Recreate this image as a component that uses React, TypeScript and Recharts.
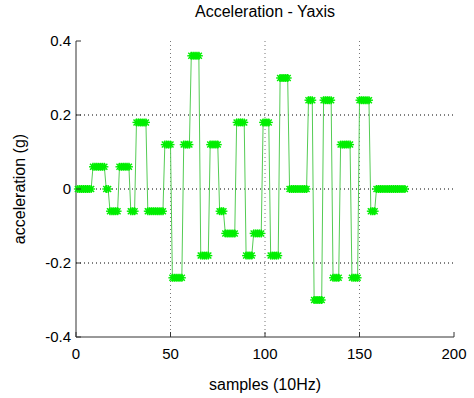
import { LineChart, Line, XAxis, YAxis, CartesianGrid } from "recharts";

// acceleration readings (g), one per sample at 10Hz
const accelY: number[] = [
  0, 0, 0, 0, 0, 0, 0, 0,
  0.06, 0.06, 0.06, 0.06, 0.06, 0.06, 0.06,
  0, 0,
  -0.06, -0.06, -0.06, -0.06, -0.06,
  0.06, 0.06, 0.06, 0.06, 0.06, 0.06,
  -0.06, -0.06, -0.06,
  0.18, 0.18, 0.18, 0.18, 0.18, 0.18,
  -0.06, -0.06, -0.06, -0.06, -0.06, -0.06, -0.06, -0.06, -0.06,
  0.12, 0.12, 0.12, 0.12,
  -0.24, -0.24, -0.24, -0.24, -0.24, -0.24,
  0.12, 0.12, 0.12, 0.12,
  0.36, 0.36, 0.36, 0.36, 0.36,
  -0.18, -0.18, -0.18, -0.18, -0.18,
  0.12, 0.12, 0.12, 0.12, 0.12,
  -0.06, -0.06, -0.06,
  -0.12, -0.12, -0.12, -0.12, -0.12, -0.12,
  0.18, 0.18, 0.18, 0.18, 0.18,
  -0.18, -0.18, -0.18, -0.18,
  -0.12, -0.12, -0.12, -0.12, -0.12,
  0.18, 0.18, 0.18, 0.18,
  -0.18, -0.18, -0.18, -0.18, -0.18,
  0.3, 0.3, 0.3, 0.3, 0.3,
  0, 0, 0, 0, 0, 0, 0, 0, 0, 0,
  0.24, 0.24, 0.24,
  -0.3, -0.3, -0.3, -0.3, -0.3,
  0.24, 0.24, 0.24, 0.24, 0.24,
  -0.24, -0.24, -0.24, -0.24,
  0.12, 0.12, 0.12, 0.12, 0.12, 0.12,
  -0.24, -0.24, -0.24, -0.24,
  0.24, 0.24, 0.24, 0.24, 0.24, 0.24,
  -0.06, -0.06, -0.06,
  0, 0, 0, 0, 0, 0, 0, 0, 0, 0, 0, 0, 0, 0, 0, 0,
];

const xTicks = [0, 50, 100, 150, 200];
const yTicks = [-0.4, -0.2, 0, 0.2, 0.4];

const data = accelY.map((v, i) => ({ sample: i + 1, accel: v }));

const FONT = "'Liberation Sans', Arial, sans-serif";
const AXIS = "#333";
const TICK_LEN = 5;

const Star = (p: any) => {
  const { cx, cy } = p;
  if (cx == null || cy == null) return <g key={p.index} />;
  const r = 4;
  return (
    <g key={p.index} stroke="#00ee00" strokeWidth={1.4}>
      <line x1={cx - r} y1={cy} x2={cx + r} y2={cy} />
      <line x1={cx} y1={cy - r} x2={cx} y2={cy + r} />
      <line x1={cx - 3} y1={cy - 3} x2={cx + 3} y2={cy + 3} />
      <line x1={cx - 3} y1={cy + 3} x2={cx + 3} y2={cy - 3} />
    </g>
  );
};

const BottomTick = ({ x, y, payload }: any) => (
  <g>
    <line x1={x} x2={x} y1={y} y2={y - TICK_LEN} stroke={AXIS} />
    <text x={x} y={y + 22} textAnchor="middle" fontSize={15} fontFamily={FONT} fill="#000">
      {payload.value}
    </text>
  </g>
);

const LeftTick = ({ x, y, payload }: any) => (
  <g>
    <line x1={x} x2={x + TICK_LEN} y1={y} y2={y} stroke={AXIS} />
    <text x={x - 5} y={y + 5} textAnchor="end" fontSize={15} fontFamily={FONT} fill="#000">
      {payload.value}
    </text>
  </g>
);

const TopTick = ({ x, y }: any) => (
  <line x1={x} x2={x} y1={y} y2={y + TICK_LEN} stroke={AXIS} />
);

const RightTick = ({ x, y }: any) => (
  <line x1={x} x2={x - TICK_LEN} y1={y} y2={y} stroke={AXIS} />
);

export default function App() {
  return (
    <div style={{ position: "fixed", left: 0, top: 0, width: 474, height: 398, background: "#fff" }}>
      <div
        style={{
          position: "absolute",
          left: 76,
          width: 378,
          top: 3,
          textAlign: "center",
          fontFamily: FONT,
          fontSize: 16,
        }}
      >
        Acceleration - Yaxis
      </div>
      <LineChart
        width={474}
        height={398}
        data={data}
        margin={{ top: 41, right: 20, bottom: 31, left: 16 }}
      >
        <CartesianGrid
          stroke="#000"
          strokeDasharray="1 3"
          vertical={false}
          horizontalValues={[-0.2, 0, 0.2]}
        />
        <CartesianGrid
          stroke="#777"
          strokeDasharray="1 3"
          horizontal={false}
          verticalValues={[50, 100, 150]}
        />
        <XAxis
          dataKey="sample"
          type="number"
          domain={[0, 200]}
          ticks={xTicks}
          tickSize={0}
          tickMargin={0}
          tickLine={false}
          tick={<BottomTick />}
          stroke={AXIS}
          height={30}
          label={{
            value: "samples (10Hz)",
            position: "insideBottom",
            offset: -23,
            fontSize: 16,
            fontFamily: FONT,
            fill: "#000",
          }}
        />
        <XAxis
          xAxisId="top"
          orientation="top"
          dataKey="sample"
          type="number"
          domain={[0, 200]}
          ticks={xTicks}
          tickSize={0}
          tickMargin={0}
          tickLine={false}
          tick={<TopTick />}
          stroke={AXIS}
          height={0}
        />
        <YAxis
          type="number"
          domain={[-0.4, 0.4]}
          ticks={yTicks}
          tickSize={0}
          tickMargin={0}
          tickLine={false}
          tick={<LeftTick />}
          stroke={AXIS}
          width={60}
          label={{
            value: "acceleration (g)",
            angle: -90,
            position: "insideLeft",
            offset: 3,
            style: { textAnchor: "middle" },
            fontSize: 16,
            fontFamily: FONT,
            fill: "#000",
          }}
        />
        <YAxis
          yAxisId="right"
          orientation="right"
          type="number"
          domain={[-0.4, 0.4]}
          ticks={yTicks}
          tickSize={0}
          tickMargin={0}
          tickLine={false}
          tick={<RightTick />}
          stroke={AXIS}
          width={0}
        />
        <Line
          type="linear"
          dataKey="accel"
          stroke="#55cc55"
          strokeWidth={1}
          dot={Star}
          activeDot={false}
          isAnimationActive={false}
        />
      </LineChart>
    </div>
  );
}
